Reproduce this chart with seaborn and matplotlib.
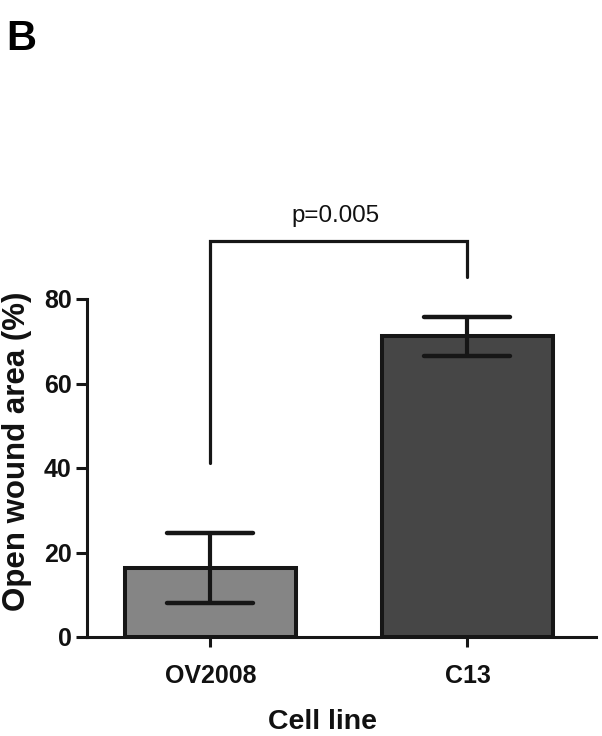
import matplotlib
matplotlib.use("Agg")
import matplotlib.pyplot as plt
from matplotlib.markers import MarkerStyle
import seaborn as sns
import pandas as pd

# Data
cell_lines = ["OV2008", "C13"]
wound_means = [16.4, 71.2]
wound_errs = [8.3, 4.6]
y_ticks = [0, 20, 40, 60, 80]
p_label = "p=0.005"
bracket_left_y = 41.3
bracket_right_y = 85.3
bracket_top_y = 93.8

sns.set_theme(style="white")
plt.rcParams["font.family"] = ["Liberation Sans", "DejaVu Sans"]

line_col = "#161616"
bar_cols = ["#858585", "#464646"]

fig = plt.figure(figsize=(6.02, 7.36), dpi=100)
ax = fig.add_axes([87/602, 1-637/736, (596-87)/602, (637-299)/736])

df = pd.DataFrame({"cell": cell_lines, "mean": wound_means, "err": wound_errs})
sns.barplot(data=df, x="cell", y="mean", hue="cell", palette=bar_cols,
            width=0.665, edgecolor=line_col, linewidth=2.9, errorbar=None,
            legend=False, ax=ax, zorder=2)

eb = ax.errorbar(x=list(range(len(cell_lines))), y=wound_means, yerr=wound_errs,
                 fmt="none", ecolor=line_col, elinewidth=3, capsize=31, capthick=3.2,
                 zorder=3)
for cl in eb[1]:
    cl.set_marker(MarkerStyle("_", capstyle="round"))

ax.set_xlim(-0.48, 1.50)
ax.set_ylim(0, 80)
ax.set_yticks(y_ticks)
ax.set_yticklabels([str(t) for t in y_ticks])

for s in ["top", "right"]:
    ax.spines[s].set_visible(False)
for s in ["left", "bottom"]:
    ax.spines[s].set_linewidth(2.2)
    ax.spines[s].set_color(line_col)
ax.spines["left"].set_bounds(0, 80)

ax.tick_params(axis="y", length=8, width=2.2, color=line_col, pad=3,
               labelsize=18, left=True)
ax.tick_params(axis="x", length=7.2, width=2.2, color=line_col, pad=12,
               labelsize=18, bottom=True)
for lab in ax.get_xticklabels() + ax.get_yticklabels():
    lab.set_fontweight("bold")
    lab.set_color("#111111")

ax.set_xlabel("Cell line", fontsize=20.5, fontweight="bold", color="#111111")
ax.set_ylabel("Open wound area (%)", fontsize=22.5, fontweight="bold", color="#111111")
ax.xaxis.set_label_coords(0.462, -0.213)
ax.yaxis.set_label_coords(-0.108, 0.55)

# significance bracket
ax.plot([0, 0, 1, 1], [bracket_left_y, bracket_top_y, bracket_top_y, bracket_right_y],
        color=line_col, lw=2.3, clip_on=False, solid_joinstyle="miter")
ax.text(0.486, 99.7, p_label, ha="center", va="center", fontsize=17.4,
        color="#111111", clip_on=False)

fig.text(6/602, 1-50/736, "B", fontsize=30, fontweight="bold", ha="left",
         va="baseline", color="#000000")

fig.savefig("out.png", dpi=100)
